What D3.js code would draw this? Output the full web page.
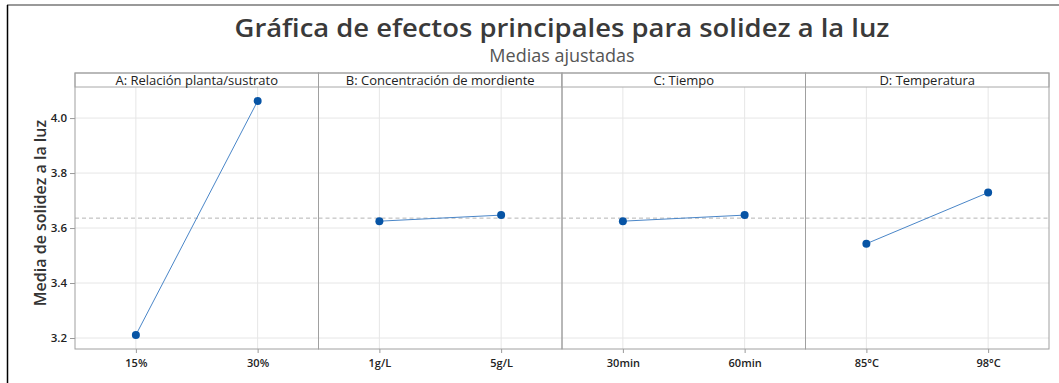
<!DOCTYPE html>
<html>
<head>
<meta charset="utf-8">
<script src="https://cdn.jsdelivr.net/npm/d3@7"></script>
<style>
  html, body { margin: 0; padding: 0; background: #fff; }
  svg { display: block; font-family: "Open Sans", "Noto Sans", sans-serif; }
</style>
</head>
<body>
<svg id="chart" width="1059" height="383"></svg>
<script>
// Main effects: fitted means for each factor at its two levels
const factors = ["A: Relación planta/sustrato", "B: Concentración de mordiente", "C: Tiempo", "D: Temperatura"];
const levelsA = ["15%", "30%"];
const levelsB = ["1g/L", "5g/L"];
const levelsC = ["30min", "60min"];
const levelsD = ["85°C", "98°C"];
const meansA = [3.211, 4.062];
const meansB = [3.625, 3.647];
const meansC = [3.625, 3.647];
const meansD = [3.543, 3.729];
const grandMean = 3.636;
const yTicks = [3.2, 3.4, 3.6, 3.8, 4.0];

const panels = [
  { title: factors[0], levels: levelsA, means: meansA },
  { title: factors[1], levels: levelsB, means: meansB },
  { title: factors[2], levels: levelsC, means: meansC },
  { title: factors[3], levels: levelsD, means: meansD }
];

const svg = d3.select("#chart");
const W = 1059, H = 383;
const plotL = 75, plotR = 1049, stripTop = 73, stripBot = 87, plotBot = 349;

// outer frame
svg.append("line").attr("x1", 7).attr("x2", W).attr("y1", 5).attr("y2", 5)
  .attr("stroke", "#777").attr("stroke-width", 1.5);
svg.append("line").attr("x1", 7.5).attr("x2", 7.5).attr("y1", 5).attr("y2", H)
  .attr("stroke", "#000").attr("stroke-width", 1.5);

// titles
svg.append("text").attr("x", 562).attr("y", 37).attr("text-anchor", "middle")
  .attr("font-size", 26).attr("font-weight", 600).attr("fill", "#3a3a3a")
  .attr("textLength", 655).attr("lengthAdjust", "spacingAndGlyphs")
  .text("Gráfica de efectos principales para solidez a la luz");
svg.append("text").attr("x", 562).attr("y", 62).attr("text-anchor", "middle")
  .attr("font-size", 18).attr("fill", "#555")
  .text("Medias ajustadas");

const y = d3.scaleLinear().domain([3.16, 4.113]).range([plotBot, stripBot]);
const panelX = d3.scaleBand().domain(d3.range(panels.length)).range([plotL, plotR]).padding(0);
const pw = panelX.bandwidth();

// horizontal grid across the whole plot
svg.append("g").selectAll("line").data(yTicks).join("line")
  .attr("x1", plotL).attr("x2", plotR)
  .attr("y1", d => y(d)).attr("y2", d => y(d))
  .attr("stroke", "#e6e6e6").attr("stroke-width", 1);

// y axis
const yAxis = svg.append("g").attr("transform", `translate(${plotL},0)`)
  .call(d3.axisLeft(y).tickValues(yTicks).tickFormat(d3.format(".1f")).tickSize(5).tickPadding(3));
yAxis.select(".domain").remove();
yAxis.selectAll(".tick line").attr("stroke", "#999");
yAxis.selectAll(".tick text").attr("font-size", 11.5).attr("font-weight", 600).attr("fill", "#222").attr("font-family", "Open Sans, sans-serif");

svg.append("text")
  .attr("transform", `translate(46,213) rotate(-90)`)
  .attr("text-anchor", "middle").attr("font-size", 16).attr("font-weight", 600).attr("fill", "#333")
  .text("Media de solidez a la luz");

panels.forEach((p, i) => {
  const x0 = panelX(i);
  const x = d3.scalePoint().domain(p.levels).range([x0 + pw * 0.25, x0 + pw * 0.75]);
  const g = svg.append("g");

  // vertical grid at each level
  g.selectAll("line.vg").data(p.levels).join("line").attr("class", "vg")
    .attr("x1", d => x(d)).attr("x2", d => x(d))
    .attr("y1", stripBot).attr("y2", plotBot)
    .attr("stroke", "#e6e6e6");

  // grand mean reference
  g.append("line").attr("x1", x0).attr("x2", x0 + pw)
    .attr("y1", y(grandMean)).attr("y2", y(grandMean))
    .attr("stroke", "#b5b5b5").attr("stroke-dasharray", "4,3");

  // x axis
  const xa = g.append("g").attr("transform", `translate(0,${plotBot})`)
    .call(d3.axisBottom(x).tickSize(4).tickPadding(6));
  xa.select(".domain").remove();
  xa.selectAll(".tick line").attr("stroke", "#999");
  xa.selectAll(".tick text").attr("font-size", 11).attr("font-weight", 600).attr("fill", "#222").attr("font-family", "Open Sans, sans-serif");

  // effect line and points
  const pts = p.levels.map((l, k) => [x(l), y(p.means[k])]);
  g.append("path").attr("d", d3.line()(pts))
    .attr("fill", "none").attr("stroke", "#4a86c8").attr("stroke-width", 1);
  g.selectAll("circle").data(pts).join("circle")
    .attr("cx", d => d[0]).attr("cy", d => d[1]).attr("r", 4)
    .attr("fill", "#0754a5");

  // strip header
  g.append("rect").attr("x", x0).attr("y", stripTop).attr("width", pw).attr("height", stripBot - stripTop)
    .attr("fill", "#fff").attr("stroke", "#a8a8a8");
  g.append("text").attr("x", x0 + pw / 2).attr("y", stripBot - 2)
    .attr("text-anchor", "middle").attr("font-size", 13).attr("fill", "#222")
    .text(p.title);

  // panel border
  g.append("rect").attr("x", x0).attr("y", stripTop).attr("width", pw).attr("height", plotBot - stripTop)
    .attr("fill", "none").attr("stroke", "#a0a0a0");
});
</script>
</body>
</html>
